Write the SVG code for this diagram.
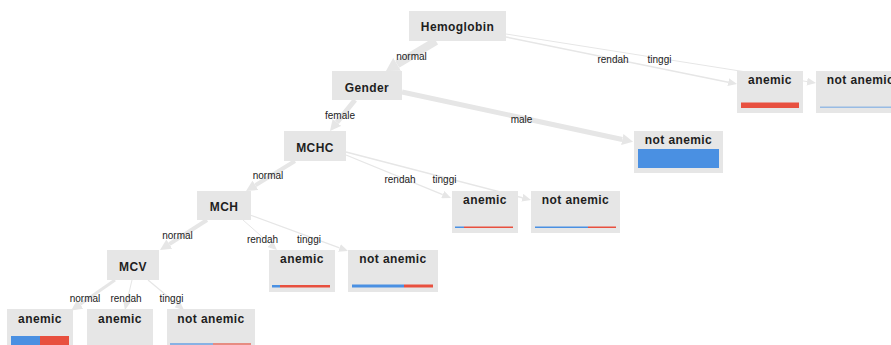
<svg xmlns="http://www.w3.org/2000/svg" width="891" height="345" viewBox="0 0 891 345">
<style>
.bg{fill:#ffffff}
.node{fill:#e6e6e6}
.nt{font-family:"Liberation Sans",Arial,sans-serif;font-size:12px;font-weight:bold;fill:#1e1e1e;text-anchor:middle;letter-spacing:0.4px}
.el{font-family:"Liberation Sans",Arial,sans-serif;font-size:10px;fill:#222;text-anchor:middle}
.edge{stroke:#e6e6e6;fill:none;stroke-linecap:butt}
.blue{fill:#4a90e2}
.red{fill:#e8503f}
</style>
<defs>
<marker id="as" markerUnits="userSpaceOnUse" viewBox="0 0 9 8" refX="0" refY="4" markerWidth="9" markerHeight="8" orient="auto"><path d="M0,0 L9,4 L0,8 z" fill="#e6e6e6"/></marker>
<marker id="am" markerUnits="userSpaceOnUse" viewBox="0 0 11 11" refX="0" refY="5.5" markerWidth="11" markerHeight="11" orient="auto"><path d="M0,0 L11,5.5 L0,11 z" fill="#e6e6e6"/></marker>
<marker id="al" markerUnits="userSpaceOnUse" viewBox="0 0 13 15" refX="0" refY="7.5" markerWidth="13" markerHeight="15" orient="auto"><path d="M0,0 L13,7.5 L0,15 z" fill="#e6e6e6"/></marker>
</defs>
<rect class="bg" x="0" y="0" width="891" height="345"/>
<g id="connectors">
<line class="edge" x1="436" y1="41" x2="397.1" y2="64.3" stroke-width="8" marker-end="url(#al)"/>
<line class="edge" x1="506" y1="37" x2="728.2" y2="82.2" stroke-width="1.5" marker-end="url(#as)"/>
<line class="edge" x1="506" y1="34" x2="807.1" y2="81.6" stroke-width="1" marker-end="url(#as)"/>
<line class="edge" x1="402" y1="92" x2="622.3" y2="139.5" stroke-width="5" marker-end="url(#am)"/>
<line class="edge" x1="355" y1="100" x2="336.9" y2="122.4" stroke-width="5" marker-end="url(#am)"/>
<line class="edge" x1="295" y1="161" x2="255.4" y2="185.3" stroke-width="4" marker-end="url(#am)"/>
<line class="edge" x1="346" y1="155" x2="442.7" y2="194.6" stroke-width="1.2" marker-end="url(#as)"/>
<line class="edge" x1="346" y1="152" x2="522.3" y2="197.7" stroke-width="1.5" marker-end="url(#as)"/>
<line class="edge" x1="207" y1="220" x2="169.3" y2="244.1" stroke-width="4" marker-end="url(#am)"/>
<line class="edge" x1="243" y1="220" x2="270.2" y2="244" stroke-width="1" marker-end="url(#as)"/>
<line class="edge" x1="250" y1="215" x2="339.5" y2="247.9" stroke-width="1.2" marker-end="url(#as)"/>
<line class="edge" x1="115" y1="280" x2="80.2" y2="304.3" stroke-width="3" marker-end="url(#am)"/>
<line class="edge" x1="132" y1="280" x2="127" y2="301.2" stroke-width="1" marker-end="url(#as)"/>
<line class="edge" x1="148" y1="280" x2="177.1" y2="304.2" stroke-width="1.2" marker-end="url(#as)"/>
</g>
<g id="n-hemoglobin"><rect class="node" x="409" y="11" width="97" height="30"/><text class="nt" x="457.5" y="30.5">Hemoglobin</text></g>
<g id="n-gender"><rect class="node" x="332" y="71" width="70" height="29"/><text class="nt" x="367" y="91.5">Gender</text></g>
<g id="n-mchc"><rect class="node" x="284" y="131" width="62" height="30"/><text class="nt" x="315" y="151.5">MCHC</text></g>
<g id="n-mch"><rect class="node" x="197" y="191" width="54" height="29"/><text class="nt" x="224" y="211">MCH</text></g>
<g id="n-mcv"><rect class="node" x="107" y="250" width="52" height="30"/><text class="nt" x="133" y="270.5">MCV</text></g>
<g id="l-hemo-rendah"><rect class="node" x="737" y="71" width="66" height="42"/><text class="nt" x="770" y="84">anemic</text><rect class="red" x="741" y="102.5" width="58" height="5.5"/></g>
<g id="l-hemo-tinggi"><rect class="node" x="816" y="71" width="89" height="42"/><text class="nt" x="860.5" y="84">not anemic</text><rect class="blue" x="820" y="106.5" width="81" height="1.5" opacity="0.5"/></g>
<g id="l-gender-male"><rect class="node" x="634" y="131" width="89" height="42"/><text class="nt" x="678.5" y="143.5">not anemic</text><rect class="blue" x="638" y="149" width="81" height="19"/></g>
<g id="l-mchc-rendah"><rect class="node" x="452" y="191" width="66" height="42"/><text class="nt" x="485" y="204">anemic</text><rect class="blue" x="455" y="226.5" width="9" height="1.5"/><rect class="red" x="464" y="226.5" width="49" height="1.5"/></g>
<g id="l-mchc-tinggi"><rect class="node" x="531" y="191" width="89" height="42"/><text class="nt" x="575.5" y="204">not anemic</text><rect class="blue" x="535" y="226.5" width="53" height="1.5"/><rect class="red" x="588" y="226.5" width="28" height="1.5"/></g>
<g id="l-mch-rendah"><rect class="node" x="269" y="250" width="66" height="42"/><text class="nt" x="302" y="263">anemic</text><rect class="blue" x="272" y="285" width="8" height="2.5"/><rect class="red" x="280" y="285" width="50" height="2.5"/></g>
<g id="l-mch-tinggi"><rect class="node" x="348" y="250" width="90" height="42"/><text class="nt" x="393" y="263">not anemic</text><rect class="blue" x="352" y="284.5" width="52" height="3"/><rect class="red" x="404" y="284.5" width="29" height="3"/></g>
<g id="l-mcv-normal"><rect class="node" x="7" y="309" width="66" height="42"/><text class="nt" x="40" y="322.5">anemic</text><rect class="blue" x="11" y="336" width="29" height="10"/><rect class="red" x="40" y="336" width="29" height="10"/></g>
<g id="l-mcv-rendah"><rect class="node" x="87" y="309" width="66" height="42"/><text class="nt" x="120" y="322.5">anemic</text></g>
<g id="l-mcv-tinggi"><rect class="node" x="167" y="309" width="88" height="42"/><text class="nt" x="211" y="322.5">not anemic</text><rect class="blue" x="170" y="343" width="43" height="3" opacity="0.6"/><rect class="red" x="213" y="343" width="38" height="3" opacity="0.6"/></g>
<g id="edge-labels">
<text class="el" x="411.5" y="60">normal</text>
<text class="el" x="613" y="62.5">rendah</text>
<text class="el" x="659.5" y="62.5">tinggi</text>
<text class="el" x="521.5" y="122.5">male</text>
<text class="el" x="340" y="118.5">female</text>
<text class="el" x="268" y="179">normal</text>
<text class="el" x="400" y="182.5">rendah</text>
<text class="el" x="444.5" y="182.5">tinggi</text>
<text class="el" x="177.5" y="239">normal</text>
<text class="el" x="262.5" y="242.5">rendah</text>
<text class="el" x="309" y="242.5">tinggi</text>
<text class="el" x="85" y="301.5">normal</text>
<text class="el" x="126" y="301.5">rendah</text>
<text class="el" x="171.5" y="301.5">tinggi</text>
</g>
</svg>
